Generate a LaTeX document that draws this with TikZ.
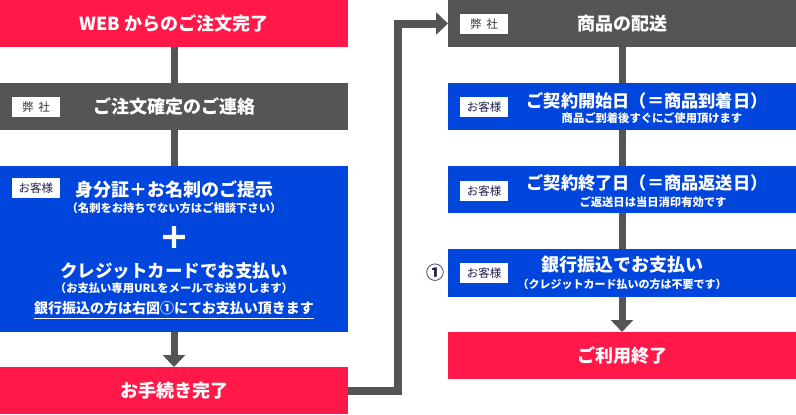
\documentclass[tikz,border=0pt]{standalone}
\usepackage{fontspec}
\setmainfont{Noto Sans CJK JP}
\newfontfamily\plusfont{Noto Sans CJK JP}[FakeBold=2.5]
\usetikzlibrary{arrows.meta}
\definecolor{cred}{HTML}{FF1848}
\definecolor{cblue}{HTML}{0045DC}
\definecolor{cgray}{HTML}{555555}
\definecolor{cnavy}{HTML}{1E1E50}
\definecolor{cdark}{HTML}{333333}
\begin{document}
\begin{tikzpicture}[x=1pt,y=-1pt,
  box/.style={inner sep=0pt,outer sep=0pt,anchor=north west,text=white,
    font=\bfseries\fontsize{18}{18}\selectfont},
  redbox/.style={box,fill=cred},
  graybox/.style={box,fill=cgray},
  bluebox/.style={box,fill=cblue},
  tag/.style={fill=white,inner sep=0pt,outer sep=0pt,anchor=north west,
    minimum width=48pt,minimum height=20pt,font=\fontsize{11.5}{12}\selectfont},
  maintxt/.style={inner sep=0pt,text=white,font=\bfseries\fontsize{18}{18}\selectfont},
  subtxt/.style={inner sep=0pt,text=white,font=\bfseries\fontsize{11.3}{12}\selectfont},
  conn/.style={draw=cgray,line width=7pt},
  connarrow/.style={conn,-{Triangle[width=22pt,length=12pt]}},
  elbow/.style={draw=cgray,line width=8pt,line join=miter,-{Triangle[width=22pt,length=12pt]}}
]
\useasboundingbox (0,0) rectangle (796,415);

% ---- left column ----
\node[redbox,minimum width=348pt,minimum height=47pt] (b1) at (0,0) {WEB からのご注文完了};
\node[graybox,minimum width=348pt,minimum height=47pt] (b2) at (0,83) {ご注文確定のご連絡};
\node[bluebox,minimum width=348pt,minimum height=166pt] (b3) at (0,166) {};
\node[redbox,minimum width=348pt,minimum height=47pt] (b4) at (0,367) {お手続き完了};

\node[tag,text=cdark] (tg1) at (12,97) {弊 \hspace{2pt}社};
\node[tag,text=cnavy] (tg2) at (12,178) {お客様};

\node[maintxt] (t1) at (174,190) {身分証＋お名刺のご提示};
\node[subtxt] (t2) at (174,208) {（名刺をお持ちでない方はご相談下さい）};
\node[inner sep=0pt,text=white,font=\plusfont\bfseries\fontsize{30}{30}\selectfont] (t3) at (174,237.5) {＋};
\node[maintxt,font=\bfseries\fontsize{17.5}{18}\selectfont] (t4) at (174,271) {クレジットカードでお支払い};
\node[subtxt] (t5) at (174,288) {（お支払い専用URLをメールでお送りします）};
\node[inner sep=0pt,text=white,font=\bfseries\fontsize{14}{14}\selectfont] (t6) at (174,308.5) {銀行振込の方は右図①にてお支払い頂きます};
\draw[white,line width=1pt] ([yshift=-4.3pt]t6.base west) -- ([yshift=-4.3pt]t6.base east);

% ---- right column ----
\node[graybox,minimum width=348pt,minimum height=47pt] (r1) at (448,0) {商品の配送};
\node[bluebox,minimum width=348pt,minimum height=47pt] (r2) at (448,83) {};
\node[bluebox,minimum width=348pt,minimum height=47pt] (r3) at (448,166) {};
\node[bluebox,minimum width=348pt,minimum height=48pt] (r4) at (448,249) {};
\node[redbox,minimum width=348pt,minimum height=47pt] (r5) at (448,332) {ご利用終了};

\node[tag,text=cdark] (tg3) at (460,14) {弊 \hspace{2pt}社};
\node[tag,text=cnavy] (tg4) at (460,97) {お客様};
\node[tag,text=cnavy] (tg5) at (460,181) {お客様};
\node[tag,text=cnavy] (tg6) at (460,263) {お客様};

\node[maintxt,font=\bfseries\fontsize{17.2}{18}\selectfont] (s1) at (647,100.5) {ご契約開始日（＝商品到着日）};
\node[subtxt] (s2) at (652,118) {商品ご到着後すぐにご使用頂けます};
\node[maintxt,font=\bfseries\fontsize{17.2}{18}\selectfont] (s3) at (647,183) {ご契約終了日（＝商品返送日）};
\node[subtxt] (s4) at (653,202) {ご返送日は当日消印有効です};
\node[maintxt] (s5) at (622,265) {銀行振込でお支払い};
\node[subtxt,font=\bfseries\fontsize{11}{12}\selectfont] (s6) at (622,284) {（クレジットカード払いの方は不要です）};

\node[inner sep=0pt,text=cnavy,font=\bfseries\fontsize{18}{18}\selectfont] (c1) at (435,273) {①};

% ---- connectors ----
\draw[conn] (b1.south) -- (b2.north);
\draw[conn] (b2.south) -- (b3.north);
\draw[connarrow] (b3.south) -- (b4.north);
\draw[conn] (r1.south) -- (r2.north);
\draw[conn] (r2.south) -- (r3.north);
\draw[conn] (r3.south) -- (r4.north);
\draw[connarrow] (r4.south) -- (r5.north);
\coordinate (ex) at (398,0);
\draw[elbow] (b4.east) -- (b4.east -| ex) -- (ex |- r1.west) -- (r1.west);
\end{tikzpicture}
\end{document}
